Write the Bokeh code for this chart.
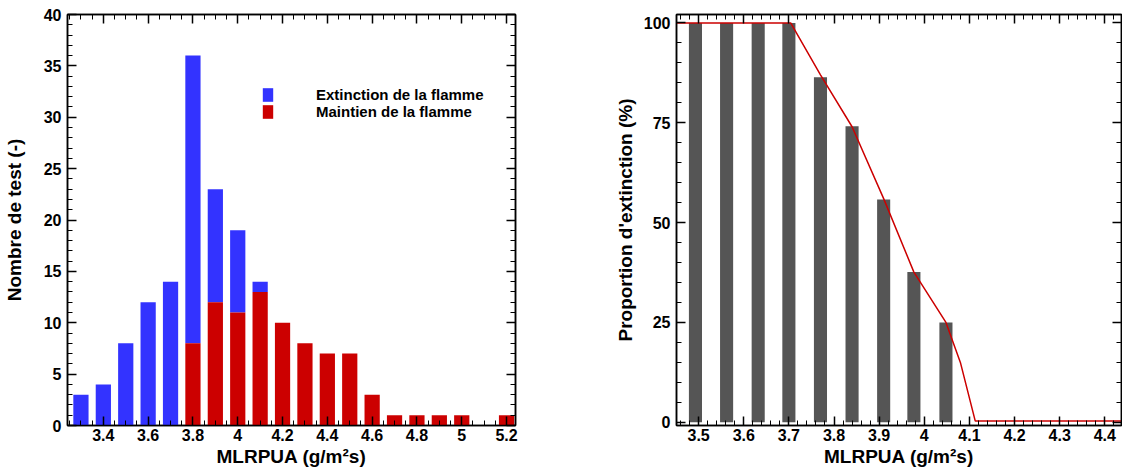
from bokeh.plotting import figure
from bokeh.models import (ColumnDataSource, Range1d, LinearAxis, SingleIntervalTicker,
                          Legend, LegendItem, CustomJSTickFormatter)
from bokeh.layouts import row
from bokeh.embed import file_html
from bokeh.resources import INLINE

# ---------------- data : left histogram ----------------
mlrpua_bins = [3.3, 3.4, 3.5, 3.6, 3.7, 3.8, 3.9, 4.0, 4.1, 4.2,
               4.3, 4.4, 4.5, 4.6, 4.7, 4.8, 4.9, 5.0, 5.1, 5.2]
maintien = [0, 0, 0, 0, 0, 8, 12, 11, 13, 10, 8, 7, 7, 3, 1, 1, 1, 1, 0, 1]
extinction = [3, 4, 8, 12, 14, 28, 11, 8, 1, 0, 0, 0, 0, 0, 0, 0, 0, 0, 0, 0]
legend_labels = ["Extinction de la flamme", "Maintien de la flamme"]

# ---------------- data : right proportion chart ----------------
prop_x = [3.493, 3.562, 3.632, 3.700, 3.770, 3.840, 3.910, 3.977, 4.048]
prop_y = [100, 100, 100, 100, 86.4, 74.1, 55.8, 37.6, 25]
curve_x = [3.451, 3.493, 3.562, 3.632, 3.704, 3.770, 3.840, 3.910, 3.977, 4.048, 4.08, 4.113, 4.437]
curve_y = [100, 100, 100, 100, 100, 87, 74, 56, 37.6, 25, 15, 0.3, 0.3]

x_title = "MLRPUA (g/m\u00b2s)"
y_title_left = "Nombre de test (-)"
y_title_right = "Proportion d'extinction (%)"

FONT = "Liberation Sans"
BLUE = "#3333ff"
RED = "#cc0000"
GREY = "#555555"

fmt = CustomJSTickFormatter(code="return Number(tick.toFixed(3)).toString();")
blank = CustomJSTickFormatter(code="return '';")


def style(p, xint, xminor, yint, yminor):
    p.below[0].ticker = SingleIntervalTicker(interval=xint, num_minor_ticks=xminor)
    p.left[0].ticker = SingleIntervalTicker(interval=yint, num_minor_ticks=yminor)
    p.add_layout(LinearAxis(ticker=SingleIntervalTicker(interval=xint, num_minor_ticks=xminor)), "above")
    p.add_layout(LinearAxis(ticker=SingleIntervalTicker(interval=yint, num_minor_ticks=yminor)), "right")
    for ax in p.below + p.left + p.above + p.right:
        ax.major_tick_in = 9
        ax.major_tick_out = 0
        ax.minor_tick_in = 5
        ax.minor_tick_out = 0
        ax.major_tick_line_width = 1.5
        ax.minor_tick_line_width = 1
        ax.major_tick_line_color = "black"
        ax.minor_tick_line_color = "black"
        ax.axis_line_width = 1.5
        ax.axis_line_color = "black"
        ax.major_label_text_font = FONT
        ax.major_label_text_font_size = "16px"
        ax.major_label_text_font_style = "bold"
        ax.major_label_text_color = "black"
        ax.axis_label_text_font = FONT
        ax.axis_label_text_font_style = "bold"
        ax.axis_label_text_font_size = "19px"
        ax.axis_label_text_color = "black"
        ax.formatter = fmt
    for ax in p.above + p.right:
        ax.formatter = blank
        ax.major_label_standoff = 0
    p.below[0].major_label_standoff = 3
    p.left[0].major_label_standoff = 6
    p.below[0].axis_label = x_title
    p.below[0].axis_label_standoff = 2
    p.xgrid.visible = False
    p.ygrid.visible = False
    p.outline_line_color = "black"
    p.outline_line_width = 1.5
    p.background_fill_color = "white"
    p.border_fill_color = "white"


# ---------------- left figure ----------------
src = ColumnDataSource(dict(x=mlrpua_bins, red=maintien,
                            total=[a + b for a, b in zip(maintien, extinction)]))
p1 = figure(width=600, height=473, output_backend="svg", toolbar_location=None,
            x_range=Range1d(3.24, 5.24), y_range=Range1d(0, 40),
            min_border_left=66, min_border_right=85, min_border_top=14, min_border_bottom=48)
rb = p1.vbar(x="x", bottom="red", top="total", width=0.068, source=src,
             fill_color=BLUE, line_color=None)
rr = p1.vbar(x="x", bottom=0, top="red", width=0.068, source=src,
             fill_color=RED, line_color=None)
style(p1, 0.2, 4, 5, 5)
p1.left[0].axis_label = y_title_left
p1.left[0].axis_label_standoff = 16

leg = Legend(items=[LegendItem(label=legend_labels[0], renderers=[rb]),
                    LegendItem(label=legend_labels[1], renderers=[rr])],
             location=(194, 305), padding=0, margin=0, spacing=0,
             glyph_width=13, glyph_height=17, label_height=17, label_standoff=42,
             label_text_font=FONT, label_text_font_size="15px", label_text_font_style="bold",
             label_text_color="black",
             border_line_alpha=0, background_fill_alpha=0)
p1.add_layout(leg)

# ---------------- right figure ----------------
src2 = ColumnDataSource(dict(x=prop_x, y=prop_y))
p2 = figure(width=522, height=473, output_backend="svg", toolbar_location=None,
            x_range=Range1d(3.451, 4.437), y_range=Range1d(-0.8, 102.1),
            min_border_left=76, min_border_right=1, min_border_top=14, min_border_bottom=48)
p2.vbar(x="x", top="y", bottom=0, width=0.029, source=src2, fill_color=GREY, line_color=None)
p2.line(curve_x, curve_y, line_color=RED, line_width=1.5)
style(p2, 0.1, 5, 25, 5)
p2.left[0].axis_label = y_title_right
p2.left[0].axis_label_standoff = 5

layout = row(p1, p2)
open("out.html", "w").write(file_html(layout, INLINE))
